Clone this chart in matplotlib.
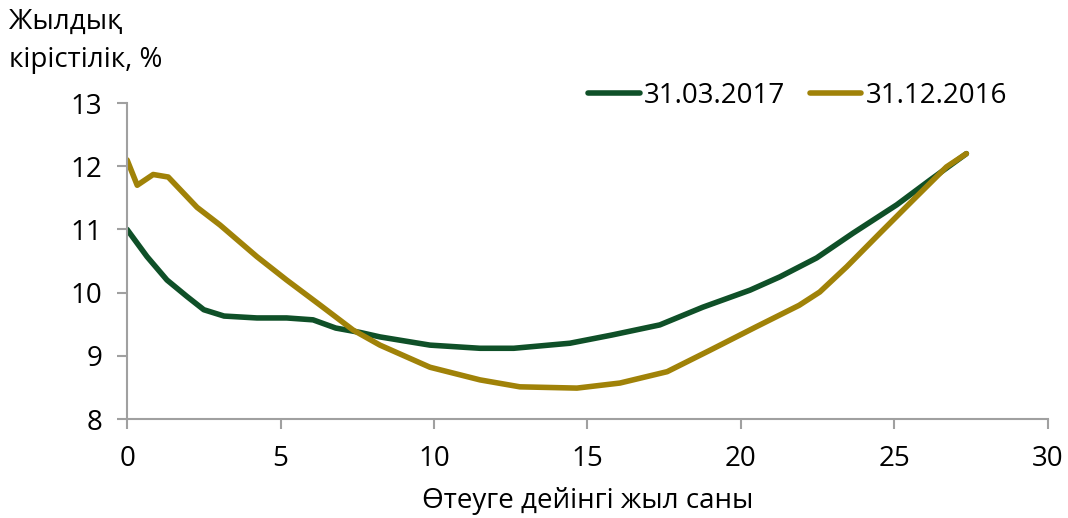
import matplotlib.pyplot as plt

plt.rcParams['font.family'] = ['Open Sans', 'DejaVu Sans']

# 31.03.2017 curve (years to maturity, yield %)
years_mar = [0, 0.65, 1.3, 1.95, 2.5, 3.16, 4.23, 5.2, 6.06, 6.8, 7.6, 8.24, 9.87, 11.5,
             12.6, 14.43, 15.8, 17.36, 18.76, 20.3, 21.27, 22.47, 23.65, 25.08, 26.16, 27.35]
yield_mar = [11.0, 10.57, 10.2, 9.94, 9.73, 9.63, 9.6, 9.6, 9.57, 9.44, 9.37, 9.3, 9.17, 9.12,
             9.12, 9.2, 9.33, 9.49, 9.77, 10.04, 10.25, 10.55, 10.94, 11.39, 11.78, 12.2]

# 31.12.2016 curve
years_dec = [0, 0.33, 0.85, 1.34, 2.28, 3.03, 4.23, 5.2, 6.3, 7.36, 8.24, 9.87, 11.5, 12.8,
             14.66, 16.06, 17.6, 19.0, 20.5, 21.9, 22.57, 23.45, 24.53, 25.6, 26.7, 27.35]
yield_dec = [12.1, 11.7, 11.87, 11.83, 11.35, 11.07, 10.57, 10.2, 9.8, 9.41, 9.17, 8.82, 8.62, 8.51,
             8.49, 8.57, 8.75, 9.09, 9.46, 9.8, 10.01, 10.41, 10.94, 11.46, 11.99, 12.2]

green = '#0f5028'
gold = '#a08208'
grey = '#a0a0a0'

fig = plt.figure(figsize=(10.68, 5.18), dpi=100)
ax = fig.add_axes([0.119, 0.191, 0.862, 0.610])

ax.plot(years_mar, yield_mar, color=green, lw=4, solid_capstyle='round',
        solid_joinstyle='round', label='31.03.2017')
ax.plot(years_dec, yield_dec, color=gold, lw=4, solid_capstyle='round',
        solid_joinstyle='round', label='31.12.2016')

ax.set_xlim(0, 30)
ax.set_ylim(8, 13)
ax.set_xticks(range(0, 31, 5))
ax.set_yticks(range(8, 14))
ax.tick_params(labelsize=20, color=grey, width=1.5, length=7)
ax.tick_params(axis='x', pad=12)
ax.tick_params(axis='y', pad=11)

for s in ['top', 'right']:
    ax.spines[s].set_visible(False)
for s in ['left', 'bottom']:
    ax.spines[s].set_color(grey)
    ax.spines[s].set_linewidth(1.5)

ax.set_xlabel('Өтеуге дейінгі жыл саны', fontsize=20, labelpad=10)
fig.text(0.008, 0.985, 'Жылдық\nкірістілік, %', fontsize=20, va='top', ha='left',
         linespacing=1.5)

ax.legend(loc='center right', bbox_to_anchor=(0.943, 0.815), bbox_transform=fig.transFigure,
          ncol=2, frameon=False, borderpad=0, borderaxespad=0,
          fontsize=20, handlelength=1.85, handletextpad=0.15, columnspacing=0.9)

fig.savefig('out.png', dpi=100)
